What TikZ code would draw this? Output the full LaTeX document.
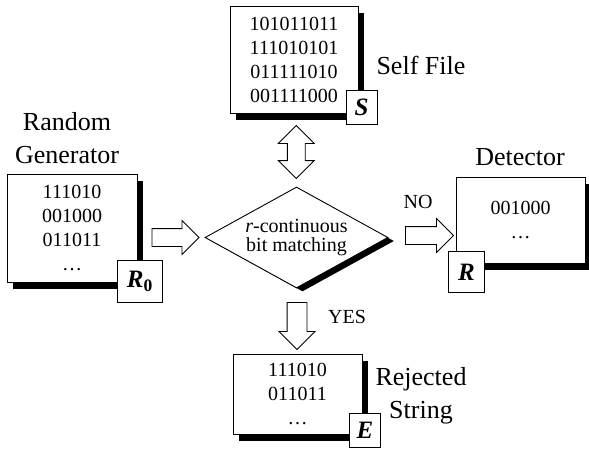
\documentclass[tikz,border=0pt]{standalone}
\usepackage{fontspec}
\setmainfont{Liberation Serif}
\usetikzlibrary{shapes.geometric,shapes.arrows,shadows,calc}

\newcommand{\bitfont}{\fontsize{20}{24}\selectfont}
\newcommand{\lblfont}{\fontsize{26}{33}\selectfont}
\newcommand{\smallfont}{\fontsize{20}{18.5}\selectfont}

\tikzset{
    blackshadow/.style={drop shadow={shadow xshift=#1, shadow yshift=-7pt, fill=black, opacity=1}},
    filebox/.style={draw, fill=white, line width=0.9pt, align=center, font=\bitfont, blackshadow=6pt},
    tag/.style={draw, fill=white, line width=0.9pt, inner sep=2pt, minimum width=31pt, minimum height=34pt,
        font=\fontsize{25}{25}\selectfont\bfseries\itshape},
    lbl/.style={align=center, font=\lblfont},
    fatarrow/.style={single arrow, draw, fill=white, line width=0.8pt, inner sep=8.5pt,
        single arrow head extend=8pt, minimum height=#1},
}

\begin{document}
\begin{tikzpicture}[x=1pt, y=-1pt]
    \useasboundingbox (0,0) rectangle (589,455);

    % the four files
    \node[filebox, minimum width=130pt, minimum height=108pt] (gen) at (72,228)
        {111010\\001000\\011011\\\ldots};
    \node[filebox, minimum width=128pt, minimum height=107pt] (self) at (294,59.5)
        {101011011\\111010101\\011111010\\001111000};
    \node[filebox, minimum width=129pt, minimum height=86pt] (det) at (520.5,220)
        {001000\\\ldots};
    \node[filebox, minimum width=129pt, minimum height=80pt] (rej) at (297.5,394)
        {111010\\011011\\\ldots};

    % matching step
    \node[diamond, draw, fill=white, line width=0.9pt, aspect=1.8, minimum width=183pt,
        minimum height=101pt, inner sep=0pt, align=center, font=\smallfont,
        drop shadow={shadow xshift=6pt, shadow yshift=-3.5pt, fill=black, opacity=1}]
        (match) at (296.5,237.5) {\textit{r}-continuous\\bit matching};

    % tags
    \node[tag, minimum width=45pt, minimum height=42pt] (tagr0) at ([shift={(2.5,-1)}]gen.south east)
        {R\textsubscript{\upshape 0}};
    \node[tag] (tags) at ([shift={(3,-6)}]self.south east) {S};
    \node[tag, minimum width=36pt, minimum height=41pt] (tagr) at ([shift={(11,8.5)}]det.south west) {R};
    \node[tag] (tage) at ([shift={(2.5,-4.5)}]rej.south east) {E};

    % labels
    \node[lbl] (genlbl) at (67,138) {Random\\Generator};
    \node[lbl, anchor=west] (selflbl) at (373,65) {Self File};
    \node[lbl] (detlbl) at (520,157) {Detector};
    \node[lbl] (rejlbl) at (421,396) {Rejected\\String};
    \node[font=\bitfont] (no) at (418,202) {NO};
    \node[font=\bitfont] (yes) at (347,317) {YES};

    % block arrows
    \node[fatarrow=47pt] (togen) at ($(gen.east|-match.west)!0.5!(match.west)$) {};
    \node[fatarrow=48pt] (todet) at ($(match.east)!0.5!(det.west|-match.east)+(3,-2)$) {};
    \node[fatarrow=47pt, inner sep=9.5pt, rotate=-90] (torej) at ($(match.south)!0.5!(rej.north)$) {};
    \node[double arrow, draw, fill=white, line width=0.8pt, inner sep=8.5pt, double arrow head extend=9pt,
        minimum height=53pt, rotate=90] (toself) at ($(self.south)!0.5!(match.north)+(1,2)$) {};
\end{tikzpicture}
\end{document}
